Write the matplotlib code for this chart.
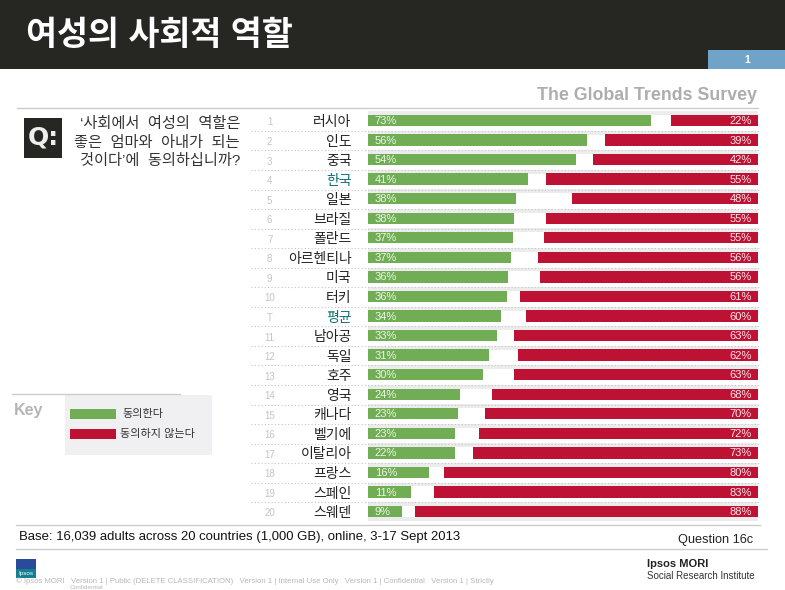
import matplotlib
matplotlib.use("Agg")
import matplotlib.pyplot as plt
from matplotlib.patches import Rectangle

plt.rcParams['font.family'] = ['Liberation Sans', 'Noto Sans CJK KR', 'DejaVu Sans']

countries = ['러시아', '인도', '중국', '한국', '일본', '브라질', '폴란드', '아르헨티나', '미국', '터키', '평균',
             '남아공', '독일', '호주', '영국', '캐나다', '벨기에', '이탈리아', '프랑스', '스페인', '스웨덴']
ranks = ['1', '2', '3', '4', '5', '6', '7', '8', '9', '10', 'T',
         '11', '12', '13', '14', '15', '16', '17', '18', '19', '20']
agree_labels = [73, 56, 54, 41, 38, 38, 37, 37, 36, 36, 34, 33, 31, 30, 24, 23, 23, 22, 16, 11, 9]
disagree_labels = [22, 39, 42, 55, 48, 55, 55, 56, 56, 61, 60, 63, 62, 63, 68, 70, 72, 73, 80, 83, 88]
# bar lengths, they differ a bit from the rounded labels
agree_bars = [72.6, 56.2, 53.3, 41.0, 38.0, 37.4, 37.2, 36.7, 35.9, 35.6, 34.1,
              33.0, 31.0, 29.5, 23.6, 23.1, 22.3, 22.3, 15.6, 11.0, 8.7]
disagree_bars = [22.3, 39.2, 42.3, 54.4, 47.7, 54.4, 55.0, 56.4, 55.9, 61.0, 59.5,
                 62.6, 61.6, 62.6, 68.2, 70.0, 71.5, 73.1, 80.5, 83.1, 87.9]
highlight = ['한국', '평균']

GREEN = '#70ad55'
RED = '#bd1233'
DARK = '#262622'
W, H = 785, 590

fig = plt.figure(figsize=(W / 100, H / 100), dpi=100, facecolor='white')

# page layer in pixel coordinates
page = fig.add_axes([0, 0, 1, 1])
page.set_xlim(0, W)
page.set_ylim(H, 0)
page.axis('off')

page.add_patch(Rectangle((0, 0), W, 69, color=DARK, lw=0))
page.add_patch(Rectangle((708, 50), 77, 19, color='#6fa3c8', lw=0))
page.text(747, 60, '1', color='white', fontsize=7.5, fontweight='bold', ha='center', va='center')
page.text(26, 36, '여성의 사회적 역할', color='white', fontsize=24.3, fontweight='bold', va='center')
page.text(757, 95, 'The Global Trends Survey', color='#adadad', fontsize=12.8, fontweight='bold',
          ha='right', va='center')

# rules
page.plot([17, 758], [108, 108], color='#cccccc', lw=1)
page.plot([16, 760], [524.5, 524.5], color='#cccccc', lw=1)
page.plot([16, 767], [548.5, 548.5], color='#cccccc', lw=1)

# question box
page.add_patch(Rectangle((24, 118), 38, 40, color=DARK, lw=0))
page.text(43, 138, 'Q:', color='#eeeeee', fontsize=18, fontweight='bold', ha='center', va='center',
          family='DejaVu Sans')
for y, line in zip([124, 143, 161], ["‘사회에서  여성의  역할은", '좋은  엄마와  아내가  되는', "것이다’에  동의하십니까?"]):
    page.text(240, y, line, color='#333333', fontsize=11, ha='right', va='center')

# key
page.plot([12, 180], [394, 394], color='#cccccc', lw=1)
page.add_patch(Rectangle((65, 395), 147, 60, color='#f0f0f2', lw=0))
page.text(14, 410, 'Key', color='#b5b5b5', fontsize=11.5, fontweight='bold', va='center')
page.add_patch(Rectangle((70, 409), 46, 10, color=GREEN, lw=0))
page.add_patch(Rectangle((70, 429), 46, 10, color=RED, lw=0))
page.text(122, 413.5, '동의한다', color='#333333', fontsize=8, va='center')
page.text(120, 433.5, '동의하지 않는다', color='#333333', fontsize=8, va='center')

# footer
page.text(19, 537, 'Base: 16,039 adults across 20 countries (1,000 GB), online, 3-17 Sept 2013',
          color='#111111', fontsize=9.45, va='center')
page.text(753, 540, 'Question 16c', color='#222222', fontsize=9.2, ha='right', va='center')
page.add_patch(Rectangle((16, 559), 20, 10, color='#2a4b9b', lw=0))
page.add_patch(Rectangle((16, 569), 20, 9, color='#12808f', lw=0))
page.text(26, 574, 'Ipsos', color='white', fontsize=4.5, ha='center', va='center')
page.text(16, 581.5, '© Ipsos MORI   Version 1 | Public (DELETE CLASSIFICATION)   Version 1 | Internal Use Only   '
          'Version 1 | Confidential   Version 1 | Strictly', color='#b8b8b8', fontsize=5.6, va='center')
page.text(70, 587.5, 'Confidential', color='#b8b8b8', fontsize=4.6, va='center')
page.text(647, 564, 'Ipsos MORI', color='#222222', fontsize=8, fontweight='bold', va='center')
page.text(647, 576, 'Social Research Institute', color='#333333', fontsize=7, va='center')

# chart layer, spans the bar area only
row_h = 19.55
top_y = 120.5 - row_h / 2
n = len(countries)
ax = fig.add_axes([368 / W, 1 - (top_y + n * row_h) / H, 390 / W, n * row_h / H])
ax.set_xlim(0, 100)
ax.set_ylim(n - 0.5, -0.5)
ax.axis('off')
ax.patch.set_alpha(0)

rows = range(n)
# pale stripe above each row, one more under the last, and dotted separators
ax.barh([r - 0.38 for r in rows], [100] * n, height=0.2, color='#ececec', lw=0)
ax.barh(n - 1 + 0.38, 100, height=0.2, color='#ececec', lw=0, clip_on=False)
ax.barh(rows, agree_bars, height=0.58, color=GREEN, lw=0)
ax.barh(rows, disagree_bars, left=[100 - d for d in disagree_bars], height=0.58, color=RED, lw=0)

for r in rows:
    ax.text(1.7, r + 0.03, f'{agree_labels[r]}%', color='#eef5e8', fontsize=8, va='center', ha='left')
    ax.text(98.4, r + 0.03, f'{disagree_labels[r]}%', color='#f8e6ea', fontsize=8, va='center', ha='right')
    name_color = '#0e6f78' if countries[r] in highlight else '#222222'
    ax.text(-4.2, r + 0.08, countries[r], color=name_color, fontsize=10, va='center', ha='right', clip_on=False)
    ax.text(-25.2, r + 0.1, ranks[r], color='#c4c4c4', fontsize=7, va='center', ha='center', clip_on=False)
    if r < n - 1:
        ax.plot([-30, 100.5], [r + 0.53, r + 0.53], color='#c4c4c4', lw=0.8, ls=(0, (1, 2)), clip_on=False)

fig.savefig('out.png', dpi=100)
